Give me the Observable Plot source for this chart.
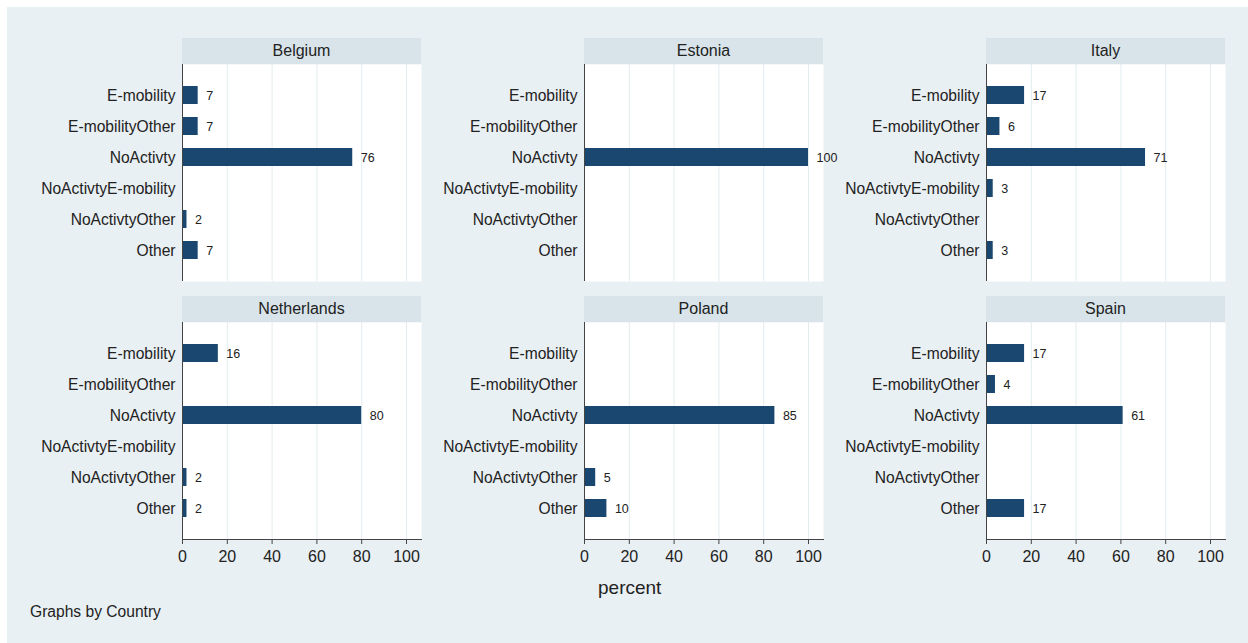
<!DOCTYPE html>
<html>
<head>
<meta charset="utf-8">
<script src="https://cdn.jsdelivr.net/npm/d3@7"></script>
<script src="https://cdn.jsdelivr.net/npm/@observablehq/plot@0.6"></script>
<style>
  html, body { margin: 0; padding: 0; background: #ffffff; }
  #wrap { position: relative; width: 1248px; height: 643px; overflow: hidden; font-family: "Liberation Sans", Arial, sans-serif; color: #222; }
  #bg { position: absolute; left: 7px; top: 7px; right: 0; bottom: 0; background: #e9f0f3; }
  .hdr { position: absolute; height: 26px; line-height: 26px; text-align: center; font-size: 16px; background: #d8e4ea; color: #222; }
  .panel { position: absolute; }
  .panel svg { max-width: none !important; }
  .txt { position: absolute; white-space: nowrap; color: #222; }
</style>
</head>
<body>
<div id="wrap"><div id="bg"></div></div>
<script>
const countries = ["Belgium", "Estonia", "Italy", "Netherlands", "Poland", "Spain"];
const categories = ["E-mobility", "E-mobilityOther", "NoActivty", "NoActivtyE-mobility", "NoActivtyOther", "Other"];
const belgium     = [7, 7, 76, 0, 2, 7];
const estonia     = [0, 0, 100, 0, 0, 0];
const italy       = [17, 6, 71, 3, 0, 3];
const netherlands = [16, 0, 80, 0, 2, 2];
const poland      = [0, 0, 85, 0, 5, 10];
const spain       = [17, 4, 61, 0, 0, 17];
const xTicks = [0, 20, 40, 60, 80, 100];
const seriesByCountry = [belgium, estonia, italy, netherlands, poland, spain];

const wrap = document.getElementById("wrap");
const plotW = 239, plotH = 217, mLeft = 175, mRight = 20, mBottom = 40;
const colX = [182, 584, 986];
const rowTop = [64, 322];

function panel(values, showX) {
  const data = categories.map((c, i) => ({cat: c, v: values[i]}));
  const marks = [
    Plot.frame({fill: "white", stroke: null}),
    Plot.gridX([20, 40, 60, 80, 100], {stroke: "#e3ebee", strokeOpacity: 1}),
    Plot.barX(data, {x: "v", y: "cat", fill: "#1a476f"}),
    Plot.text(data.filter(d => d.v > 0), {x: "v", y: "cat", text: d => String(d.v), dx: 8, textAnchor: "start", fontSize: 12.5, fill: "#222"}),
    Plot.axisY({tickSize: 0, tickPadding: 7, fontSize: 15.6, label: null}),
    Plot.ruleX([0], {stroke: "#444"})
  ];
  if (showX) {
    marks.push(Plot.axisX({ticks: xTicks, tickSize: 5, tickPadding: 6, fontSize: 16, label: null, stroke: "#444"}));
    marks.push(Plot.frame({anchor: "bottom", stroke: "#444"}));
  }
  return Plot.plot({
    width: mLeft + plotW + mRight,
    height: plotH + (showX ? mBottom : 0),
    marginLeft: mLeft,
    marginRight: mRight,
    marginTop: 0,
    marginBottom: showX ? mBottom : 0,
    style: {background: "transparent", overflow: "visible", maxWidth: "none", fontFamily: "Liberation Sans, Arial, sans-serif", color: "#222"},
    x: {domain: [0, 106.7], axis: showX ? undefined : null},
    y: {domain: categories, paddingInner: 0.42, paddingOuter: 0.71},
    marks
  });
}

countries.forEach((name, i) => {
  const col = i % 3, row = Math.floor(i / 3);
  const hdr = document.createElement("div");
  hdr.className = "hdr";
  hdr.style.left = colX[col] + "px";
  hdr.style.top = (rowTop[row] - 26) + "px";
  hdr.style.width = plotW + "px";
  hdr.textContent = name;
  wrap.appendChild(hdr);

  const svg = panel(seriesByCountry[i], row === 1);
  const holder = document.createElement("div");
  holder.className = "panel";
  holder.style.left = (colX[col] - mLeft) + "px";
  holder.style.top = rowTop[row] + "px";
  holder.style.width = (mLeft + plotW + mRight) + "px";
  holder.appendChild(svg);
  wrap.appendChild(holder);
});

const xl = document.createElement("div");
xl.className = "txt";
xl.style.left = "598px"; xl.style.top = "577px"; xl.style.fontSize = "19px";
xl.textContent = "percent";
wrap.appendChild(xl);

const cap = document.createElement("div");
cap.className = "txt";
cap.style.left = "30px"; cap.style.top = "603px"; cap.style.fontSize = "15.6px";
cap.textContent = "Graphs by Country";
wrap.appendChild(cap);
</script>
</body>
</html>
